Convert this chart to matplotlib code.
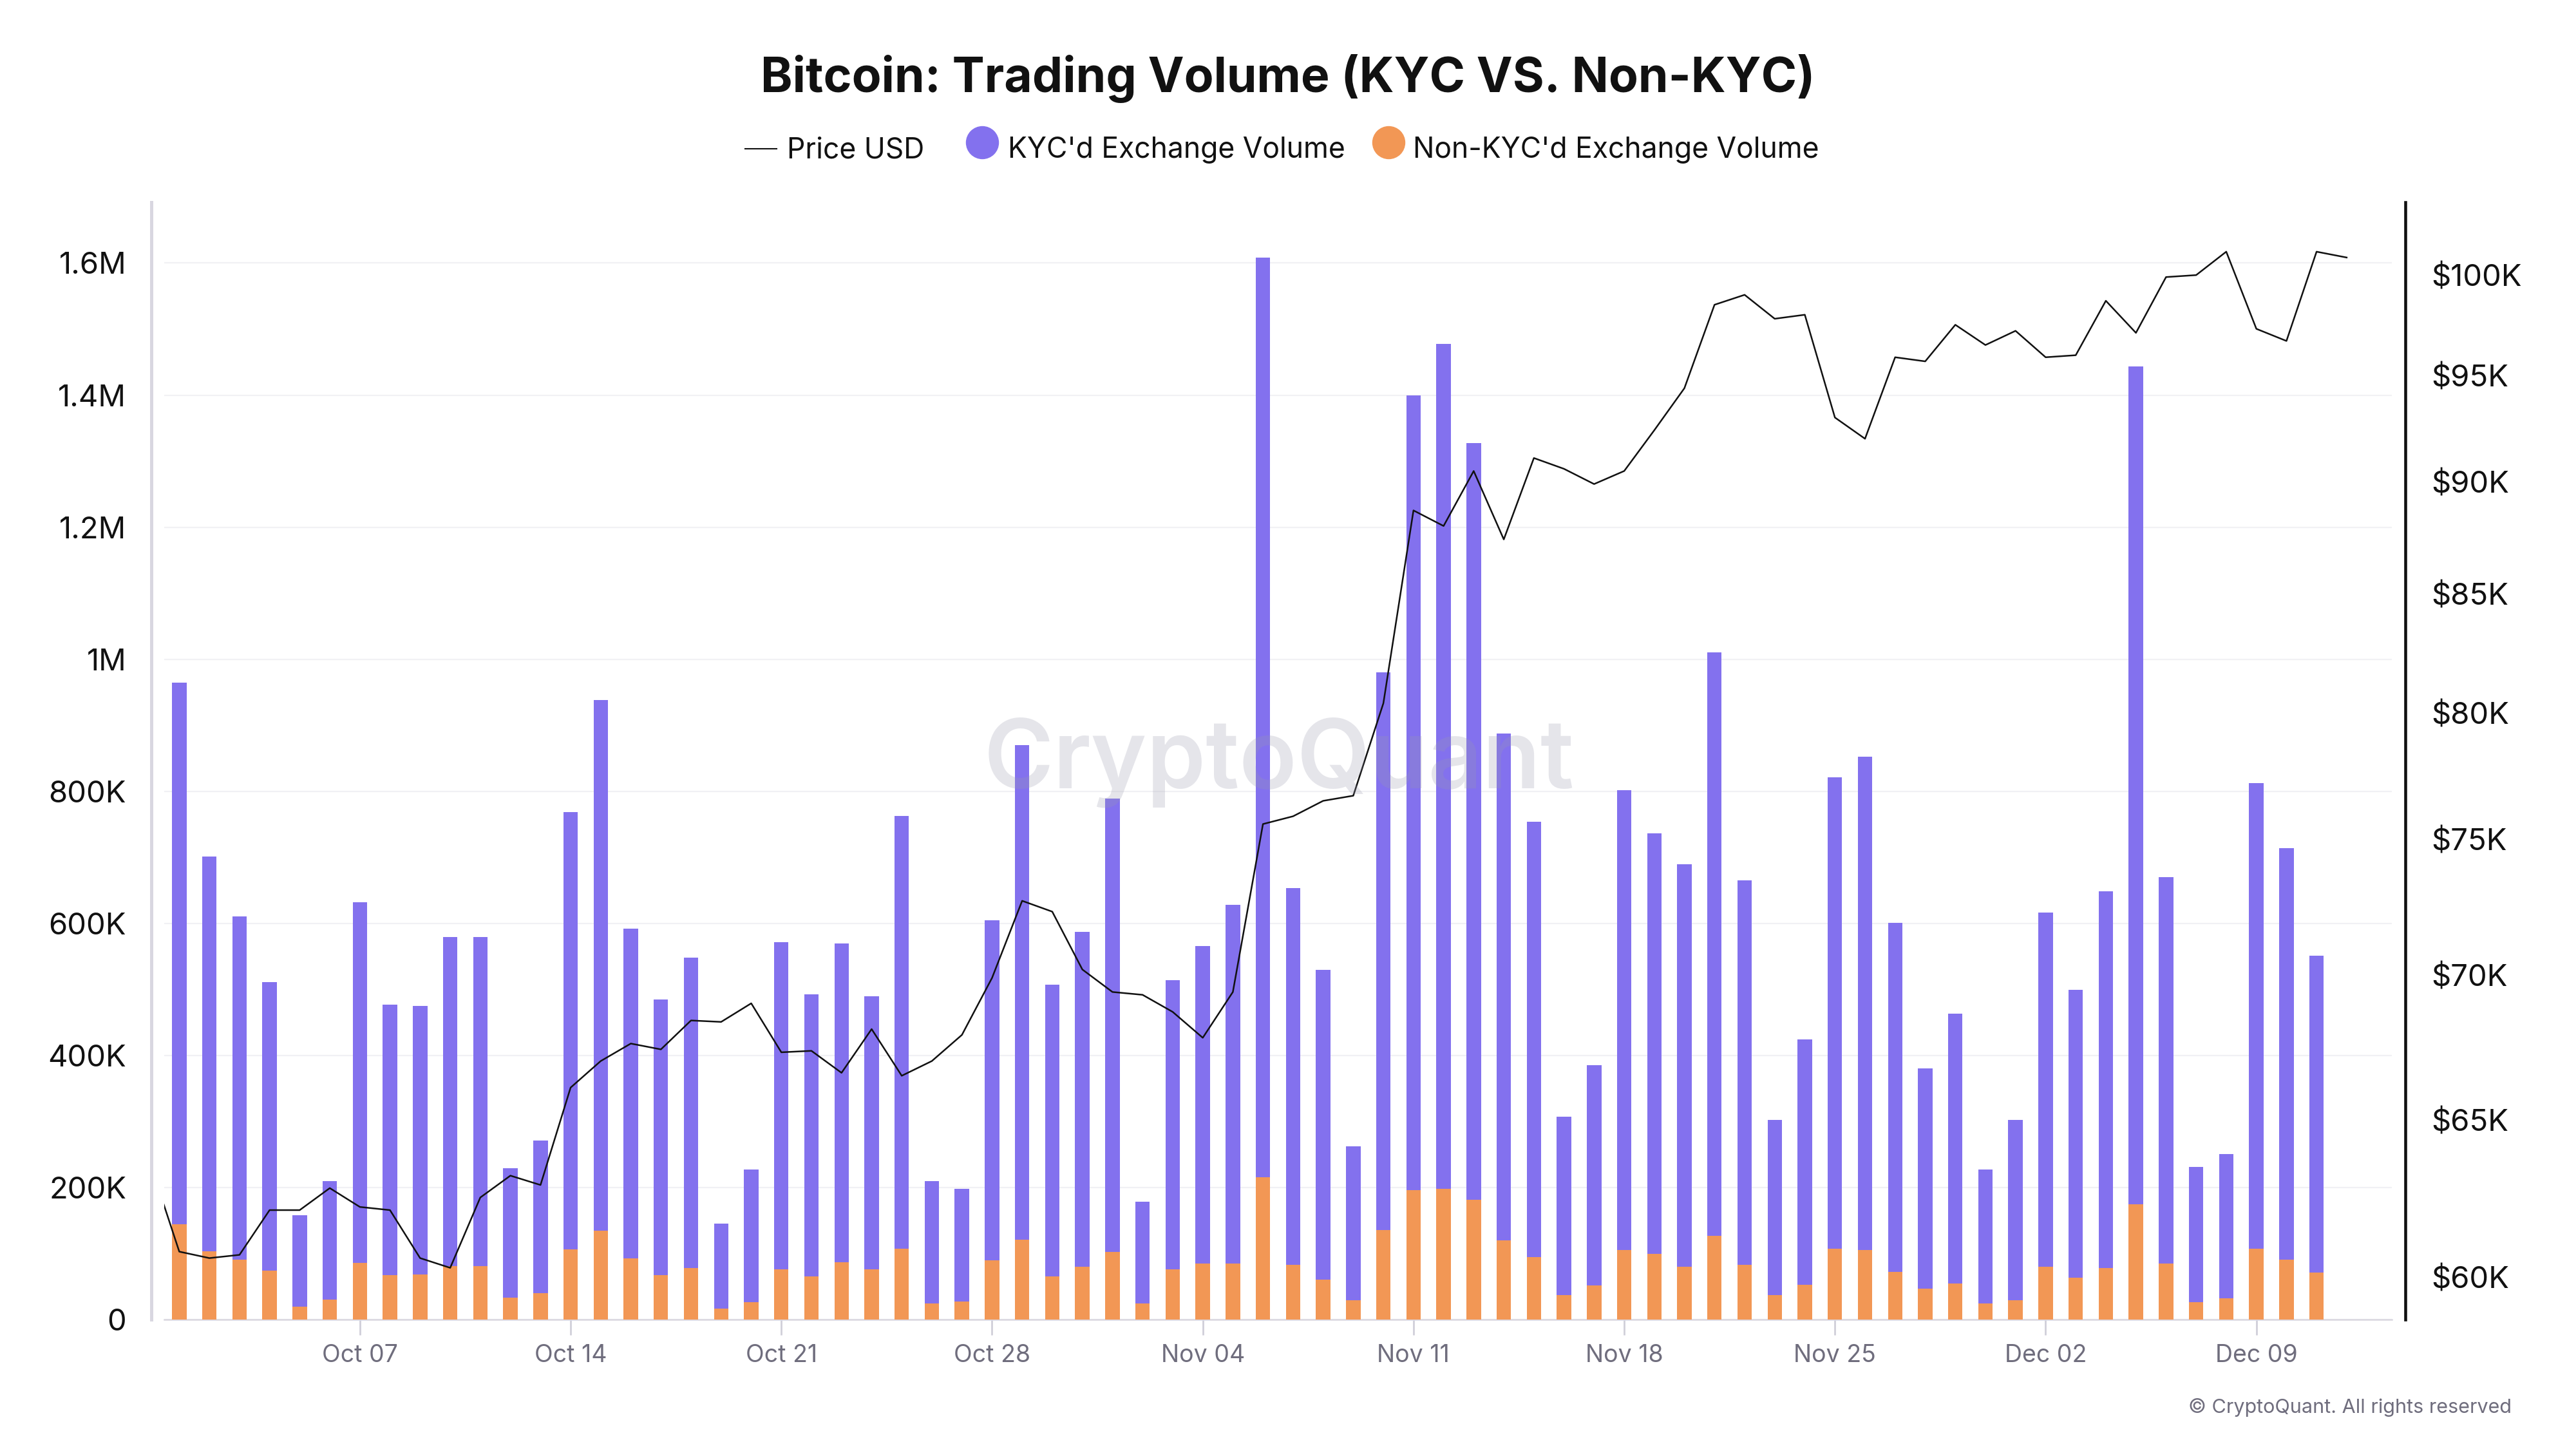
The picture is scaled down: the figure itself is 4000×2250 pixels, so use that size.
import numpy as np
import pandas as pd
import matplotlib
matplotlib.use("Agg")
import matplotlib.pyplot as plt
import matplotlib.dates as mdates
from matplotlib.ticker import FixedLocator, FuncFormatter, NullLocator
from matplotlib.lines import Line2D

plt.rcParams['font.family'] = ['Inter', 'DejaVu Sans']

# Daily volumes (thousands), Oct 01 - Dec 11
vol_dates = pd.date_range('2024-10-01', '2024-12-11', freq='D')
kyc_volume = [
    965, 701, 611, 511, 158, 210, 632, 477, 475, 579, 579, 229, 271, 769, 938, 592,
    485, 548, 145, 227, 572, 493, 570, 490, 763, 210, 198, 605, 870, 507, 587,
    789, 179, 514, 566, 628, 1608, 653, 530, 262, 980, 1400, 1478, 1327, 888, 754,
    307, 385, 802, 736, 690, 1010, 665, 302, 424, 821, 852, 601, 380, 463, 227,
    302, 616, 499, 649, 1443, 670, 231, 251, 812, 714, 551,
]
non_kyc_volume = [
    144, 103, 91, 74, 20, 30, 86, 67, 68, 81, 81, 33, 40, 106, 135, 93,
    67, 78, 17, 26, 76, 65, 87, 76, 107, 24, 27, 90, 121, 65, 80,
    102, 24, 76, 85, 85, 216, 83, 61, 29, 136, 196, 198, 181, 120, 95,
    37, 52, 105, 100, 80, 127, 83, 37, 53, 107, 105, 72, 47, 55, 24,
    29, 80, 63, 78, 175, 85, 26, 32, 107, 91, 71,
]

# Daily BTC price (thousand USD), Sep 30 - Dec 12
price_dates = pd.date_range('2024-09-30', '2024-12-12', freq='D')
price_usd = [
    63.7,
    60.8, 60.6, 60.7, 62.1, 62.1, 62.8, 62.2, 62.1, 60.6, 60.3, 62.5, 63.2, 62.9,
    66.1, 67.0, 67.6, 67.4, 68.4, 68.35, 69.0, 67.3, 67.35, 66.6, 68.1, 66.5, 67.0,
    67.9, 69.9, 72.7, 72.3, 70.2,
    69.4, 69.3, 68.7, 67.8, 69.4, 75.6, 75.9, 76.5, 76.7, 80.4, 88.7, 88.0, 90.5,
    87.4, 91.1, 90.6, 89.9, 90.5, 92.4, 94.4, 98.5, 99.0, 97.8, 98.0, 93.0, 92.0,
    95.9, 95.7, 97.5, 96.5,
    97.2, 95.9, 96.0, 98.7, 97.1, 99.9, 100.0, 101.2, 97.3, 96.7, 101.2, 100.9,
]

vol_ticks = [0, 200e3, 400e3, 600e3, 800e3, 1e6, 1.2e6, 1.4e6, 1.6e6]
price_ticks = [60e3, 65e3, 70e3, 75e3, 80e3, 85e3, 90e3, 95e3, 100e3]
week_ticks = pd.date_range('2024-10-07', '2024-12-09', freq='7D')

purple = '#8371ee'
orange = '#f29755'

fig = plt.figure(figsize=(40, 22.5), dpi=100)
ax = fig.add_axes([0.06375, 0.0893, 0.86475, 0.7711])

kyc = np.array(kyc_volume) * 1e3
non_kyc = np.array(non_kyc_volume) * 1e3
ax.bar(vol_dates, kyc, width=0.48, color=purple, zorder=2)
ax.bar(vol_dates, non_kyc, width=0.48, color=orange, zorder=3)

ax.set_xlim(pd.Timestamp('2024-09-30 12:00'), pd.Timestamp('2024-12-13 12:00'))
ax.set_ylim(0, 1.692e6)


def fmt_vol(v, pos):
    if v == 0:
        return '0'
    if v >= 1e6:
        return f'{v / 1e6:g}M'
    return f'{v / 1e3:g}K'


ax.yaxis.set_major_locator(FixedLocator(vol_ticks))
ax.yaxis.set_major_formatter(FuncFormatter(fmt_vol))
ax.yaxis.grid(True, color='#f1f1f4', lw=1.6)
ax.set_axisbelow(True)

ax.xaxis.set_major_locator(FixedLocator(mdates.date2num(week_ticks)))
ax.xaxis.set_major_formatter(mdates.DateFormatter('%b %d'))

for s in ['top', 'right']:
    ax.spines[s].set_visible(False)
ax.spines['left'].set_color('#d9d7e0')
ax.spines['left'].set_linewidth(3.6)
ax.spines['left'].set_position(('outward', 14.4))
ax.spines['bottom'].set_color('#d9d7e0')
ax.spines['bottom'].set_linewidth(1.8)

ax.tick_params(axis='y', length=0, pad=28, labelsize=34, labelcolor='#111111')
ax.tick_params(axis='x', length=17, width=2, color='#d0cfd9', pad=10,
               labelsize=27, labelcolor='#6f6d7d')

# Price on a log-scaled right axis
ax2 = ax.twinx()
ax2.set_yscale('log')
ax2.plot(price_dates, np.array(price_usd) * 1e3, color='#111111', lw=1.8, zorder=4)
ax2.set_ylim(58.73e3, 103.78e3)
ax2.yaxis.set_major_locator(FixedLocator(price_ticks))
ax2.yaxis.set_major_formatter(FuncFormatter(lambda v, p: f'${v / 1e3:.0f}K'))
ax2.yaxis.set_minor_locator(NullLocator())
for s in ['top', 'left', 'bottom']:
    ax2.spines[s].set_visible(False)
ax2.spines['right'].set_color('#111111')
ax2.spines['right'].set_linewidth(3.3)
ax2.spines['right'].set_position(('outward', 15))
ax2.tick_params(axis='y', which='both', length=0, pad=29, labelsize=34, labelcolor='#111111')

# Title
fig.text(0.5, 1 - 143 / 2250, 'Bitcoin: Trading Volume (KYC VS. Non-KYC)',
         ha='center', va='baseline', fontsize=54, fontweight='bold', color='#111111')

# Legend (drawn by hand to match the layout)
ly = 1 - 231 / 2250
cy = 1 - 221 / 2250
ty = 1 - 245 / 2250
fig.add_artist(Line2D([1157 / 4000, 1206 / 4000], [ly, ly], transform=fig.transFigure,
                      color='#111111', lw=1.5))
fig.text(1222 / 4000, ty, 'Price USD', ha='left', va='baseline', fontsize=32, color='#111111')
fig.add_artist(Line2D([1525 / 4000], [cy], transform=fig.transFigure, marker='o',
                      markersize=36, color=purple, linestyle='none'))
fig.text(1565 / 4000, ty, "KYC'd Exchange Volume", ha='left', va='baseline',
         fontsize=32, color='#111111')
fig.add_artist(Line2D([2156 / 4000], [cy], transform=fig.transFigure, marker='o',
                      markersize=36, color=orange, linestyle='none'))
fig.text(2194 / 4000, ty, "Non-KYC'd Exchange Volume", ha='left', va='baseline',
         fontsize=32, color='#111111')

# Watermark and credit
fig.text(0.4965, 1 - 1223 / 2250, 'CryptoQuant', ha='center', va='baseline',
         fontsize=106, fontweight='semibold', color='#9a9aae', alpha=0.25, zorder=10)
fig.text(3900 / 4000, 1 - 2194 / 2250, '\u00a9 CryptoQuant. All rights reserved',
         ha='right', va='baseline', fontsize=22, color='#6f6d7d')

fig.savefig('out.png', dpi=100)
